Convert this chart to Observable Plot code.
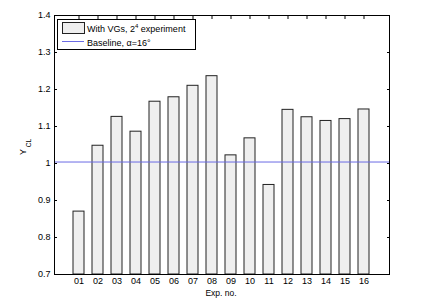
<!DOCTYPE html>
<html>
<head>
<meta charset="utf-8">
<script src="https://cdn.jsdelivr.net/npm/d3@7"></script>
<script src="https://cdn.jsdelivr.net/npm/@observablehq/plot@0.6"></script>
<style>
  body { margin: 0; background: #fff; }
  svg { display: block; }
</style>
</head>
<body>
<div id="chart"></div>
<script>
// Lift coefficient ratio per experiment of the 2^4 design, with VGs
const experiments = ["01", "02", "03", "04", "05", "06", "07", "08",
                     "09", "10", "11", "12", "13", "14", "15", "16"];
const liftRatio = [0.870, 1.048, 1.126, 1.086, 1.167, 1.179, 1.210, 1.236,
                   1.022, 1.068, 0.942, 1.145, 1.125, 1.115, 1.120, 1.146];
// Clean-blade reference at alpha = 16 deg
const baselineRatio = 1.004;
const yTicks = [0.7, 0.8, 0.9, 1, 1.1, 1.2, 1.3, 1.4];
const yTickLabels = ["0.7", "0.8", "0.9", "1", "1.1", "1.2", "1.3", "1.4"];
const yMin = 0.7, yMax = 1.4;

const rows = experiments.map((exp, i) => ({exp, value: liftRatio[i]}));

const barFill = "#efefef";
const barStroke = "#222";
const baseColor = "#6b6be4";

const chart = Plot.plot({
  width: 426,
  height: 298,
  marginLeft: 54,
  marginRight: 37,
  marginTop: 15,
  marginBottom: 24,
  style: {fontFamily: "'Liberation Sans', Arial, sans-serif", fontSize: "9px", background: "#fff", color: "#000", overflow: "visible"},
  x: {domain: experiments, paddingInner: 0.4, paddingOuter: 0.7, label: null},
  y: {domain: [yMin, yMax], label: null},
  marks: [
    // tick labels outside, tick marks pointing inward on all four sides
    Plot.axisX({anchor: "bottom", tickSize: 0, tickPadding: 3, label: null}),
    Plot.axisX({anchor: "bottom", tickSize: -3, text: null, label: null}),
    Plot.axisX({anchor: "top", tickSize: -3, text: null, label: null}),
    Plot.axisY(yTicks, {anchor: "left", tickSize: 0, tickPadding: 4, label: null,
      tickFormat: d => yTickLabels[yTicks.indexOf(d)]}),
    Plot.axisY(yTicks, {anchor: "left", tickSize: -3, text: null, label: null}),
    Plot.axisY(yTicks, {anchor: "right", tickSize: -3, text: null, label: null}),
    Plot.barY(rows, {x: "exp", y1: () => yMin, y2: "value", fill: barFill, stroke: barStroke, strokeWidth: 1}),
    Plot.ruleY([baselineRatio], {stroke: baseColor, strokeWidth: 1}),
    Plot.frame({stroke: "#000", strokeWidth: 1})
  ]
});

const svg = d3.select(chart);
const font = "'Liberation Sans', Arial, sans-serif";

// x-axis title
svg.append("text")
  .attr("x", 221).attr("y", 296)
  .attr("text-anchor", "middle")
  .attr("font-family", font).attr("font-size", 8.5)
  .text("Exp. no.");

// y-axis title: Y with subscript CL
const yt = svg.append("text")
  .attr("transform", "translate(26,147) rotate(-90)")
  .attr("text-anchor", "middle")
  .attr("font-family", font).attr("font-size", 9)
  .attr("fill", "#000");
yt.append("tspan").text("Y");
yt.append("tspan").attr("dy", 5).attr("font-size", 6.5).text(" CL");

// legend
const lg = svg.append("g")
  .attr("font-family", font).attr("font-size", 9)
  .attr("text-anchor", "start");
lg.append("rect").attr("x", 57.5).attr("y", 19.5).attr("width", 138).attr("height", 30)
  .attr("fill", "#fff").attr("stroke", "#000");
lg.append("rect").attr("x", 62.5).attr("y", 22.5).attr("width", 22).attr("height", 11)
  .attr("fill", barFill).attr("stroke", barStroke);
const t1 = lg.append("text").attr("x", 87).attr("y", 31.5).attr("text-anchor", "start");
t1.append("tspan").text("With VGs, 2");
t1.append("tspan").attr("dy", -4).attr("font-size", 6).text("4");
t1.append("tspan").attr("dy", 4).text(" experiment");
lg.append("line").attr("x1", 62).attr("x2", 84).attr("y1", 41.5).attr("y2", 41.5)
  .attr("stroke", baseColor);
lg.append("text").attr("x", 87).attr("y", 45.5).attr("text-anchor", "start")
  .text("Baseline, \u03B1=16\u00B0");

document.getElementById("chart").appendChild(chart);
</script>
</body>
</html>
